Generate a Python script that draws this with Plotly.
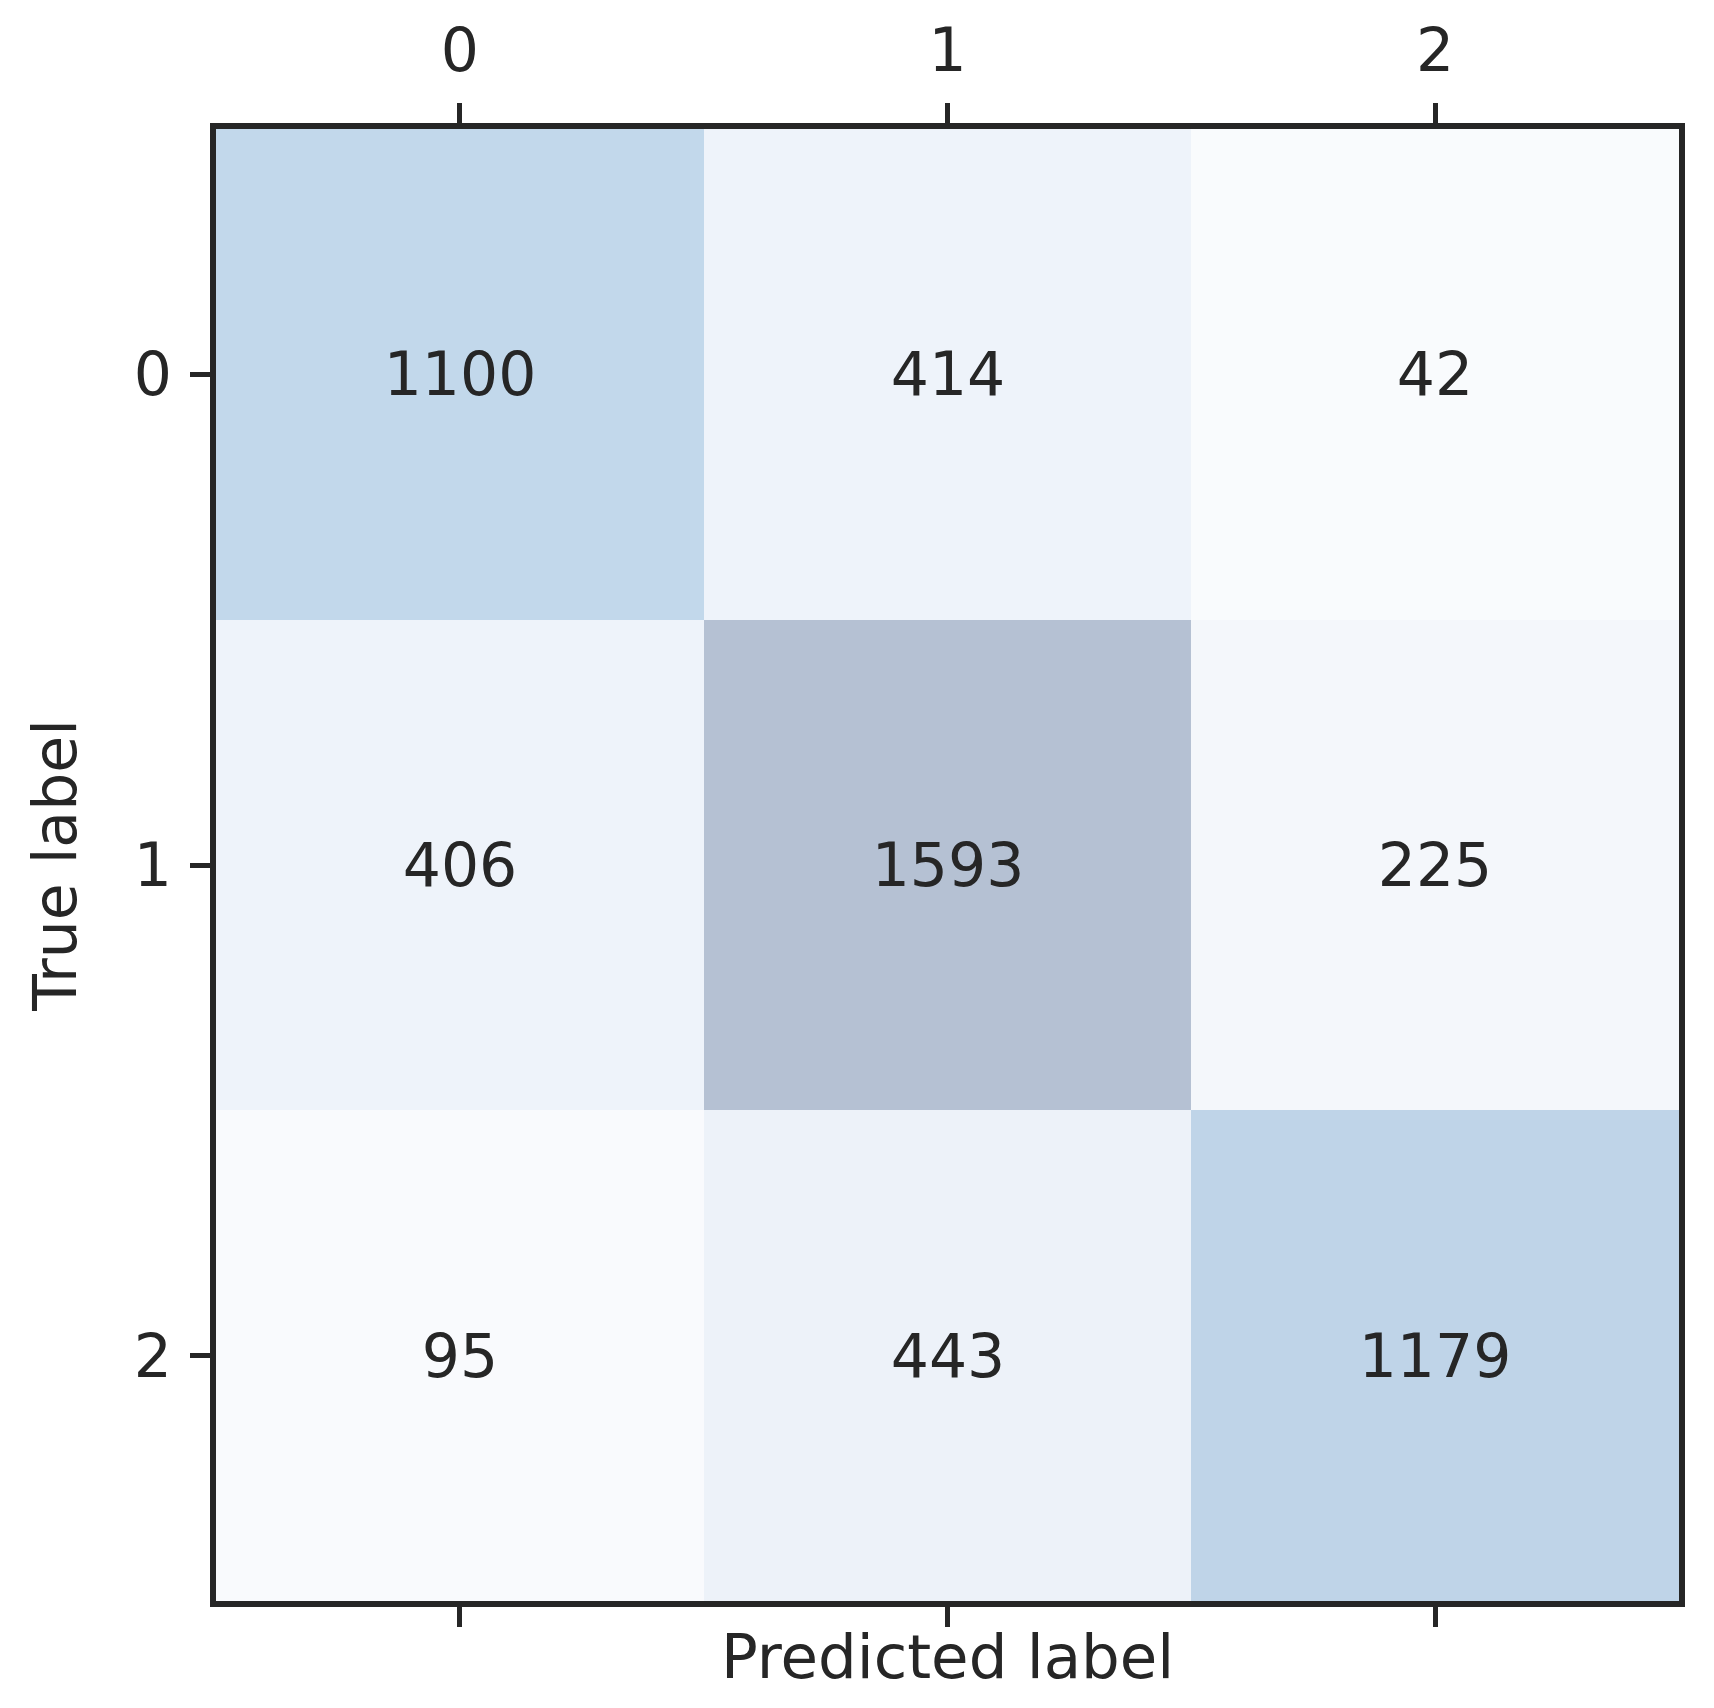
import plotly.graph_objects as go

# Data
pred_labels = ["0", "1", "2"]
true_labels = ["0", "1", "2"]
counts = [
    [1100, 414, 42],
    [406, 1593, 225],
    [95, 443, 1179],
]
# colours, keyed by count value
value_colors = {
    42: "#f9fbfd",
    95: "#f9fafd",
    225: "#f4f7fb",
    406: "#eef3fa",
    414: "#eef3fa",
    443: "#edf2f9",
    1100: "#c2d8eb",
    1179: "#bfd4e8",
    1593: "#b5c1d3",
}

vals = sorted(value_colors)
zmin, zmax = vals[0], vals[-1]
colorscale = [[(v - zmin) / (zmax - zmin), value_colors[v]] for v in vals]

FONT = "DejaVu Sans"
DARK = "#262626"

fig = go.Figure(
    go.Heatmap(
        z=counts,
        x=[0, 1, 2],
        y=[0, 1, 2],
        zmin=zmin,
        zmax=zmax,
        colorscale=colorscale,
        showscale=False,
        text=[[str(v) for v in row] for row in counts],
        texttemplate="%{text}",
        textfont=dict(family=FONT, size=60, color=DARK),
        hoverinfo="skip",
    )
)

fig.update_layout(
    width=1714,
    height=1708,
    margin=dict(l=208, r=43, t=121, b=115, autoexpand=False),
    paper_bgcolor="white",
    plot_bgcolor="white",
    font=dict(family=FONT, size=60, color=DARK),
    showlegend=False,
)

fig.update_xaxes(
    side="top",
    range=[-0.5, 2.5],
    tickvals=[0, 1, 2],
    ticktext=pred_labels,
    ticks="outside",
    ticklen=20,
    tickwidth=5,
    tickcolor=DARK,
    showline=True,
    linewidth=6,
    linecolor=DARK,
    mirror="ticks",
    showgrid=False,
    zeroline=False,
    ticklabelstandoff=8,
    tickfont=dict(family=FONT, size=60, color=DARK),
)
fig.update_yaxes(
    range=[2.5, -0.5],
    tickvals=[0, 1, 2],
    ticktext=true_labels,
    ticks="outside",
    ticklen=20,
    tickwidth=5,
    tickcolor=DARK,
    showline=True,
    linewidth=6,
    linecolor=DARK,
    mirror=True,
    showgrid=False,
    zeroline=False,
    ticklabelstandoff=6,
    tickfont=dict(family=FONT, size=60, color=DARK),
    title=dict(text="True label", font=dict(family=FONT, size=60, color=DARK), standoff=40),
)

fig.add_annotation(
    text="Predicted label",
    x=0.5,
    xref="paper",
    y=-0.005,
    yref="paper",
    yanchor="top",
    yshift=-11,
    showarrow=False,
    font=dict(family=FONT, size=61, color=DARK),
)

fig.write_html("out.html")
